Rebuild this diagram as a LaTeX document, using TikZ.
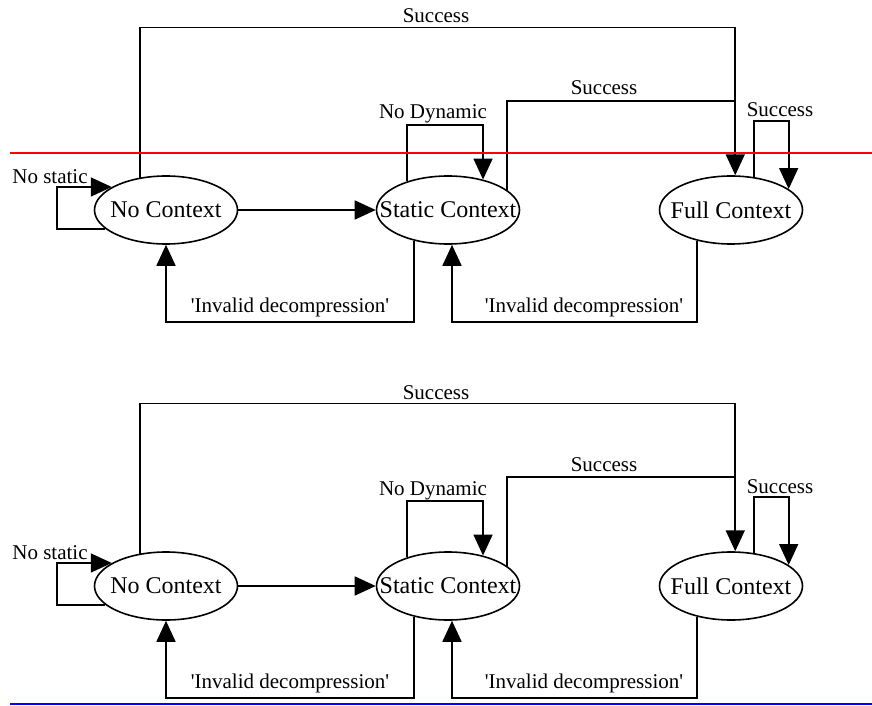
\documentclass[tikz,border=0pt]{standalone}
\usepackage{fontspec}
\setmainfont{Liberation Serif}
\usetikzlibrary{shapes.geometric,arrows.meta}
\begin{document}
\begin{tikzpicture}[x=1pt,y=-1pt,
  conn/.style={line width=1.7pt},
  arr/.style={conn,-{Triangle[length=21pt,width=19pt]}},
  state/.style={ellipse,draw,line width=1.6pt,minimum width=143pt,minimum height=68pt,inner sep=0pt,font=\fontsize{24}{24}\selectfont},
  lbl/.style={font=\fontsize{21}{21}\selectfont,inner sep=0pt,anchor=base}]
\useasboundingbox (0,0) rectangle (872,706);
\foreach \o/\s in {0/a,376/b}{
\begin{scope}[yshift=-\o pt]
  \node[state] (nc\s) at (166,210) {\makebox[0pt]{No Context}};
  \node[state] (sc\s) at (448,210) {\makebox[0pt]{Static Context}};
  \node[state] (fc\s) at (731,210) {\makebox[0pt]{Full Context}};
  \coordinate (j\s) at (735,101);
  % labels
  \node[lbl] (ls\s) at (50,183) {No static};
  \node[lbl] (ld\s) at (433,119) {No Dynamic};
  \node[lbl] (lt\s) at (436,23) {Success};
  \node[lbl] (lm\s) at (604,95) {Success};
  \node[lbl] (lf\s) at (780,117) {Success};
  \node[lbl] (li\s) at (290,312) {\textquotesingle Invalid decompression\textquotesingle};
  \node[lbl] (lj\s) at (584,312) {\textquotesingle Invalid decompression\textquotesingle};
  % connectors
  \draw[arr] (nc\s.197.8) -| ([xshift=-55pt]nc\s.157.8) -- (nc\s.157.8);
  \draw[arr] (nc\s) -- (sc\s);
  \draw[arr] (sc\s.222.5) -- ++(0,81) -| (nc\s.south);
  \draw[arr] (fc\s.222.5) -- ++(0,81) -| ([xshift=4pt]sc\s.south);
  \draw[arr] (sc\s.145.8) -- ++(0,-56) -| (sc\s.41.4);
  \draw[conn] (sc\s.19.1) |- (j\s);
  \draw[arr] (fc\s.55.8) -- ++(0,-56) -| (fc\s.20);
  \draw[arr] (nc\s.129.4) -- ++(0,-150) -| (fc\s.83.3);
\end{scope}
}
\draw[red,line width=1.3pt] (10,153) -- (872,153);
\draw[blue,line width=2pt] (10,704) -- (872,704);
\end{tikzpicture}
\end{document}
